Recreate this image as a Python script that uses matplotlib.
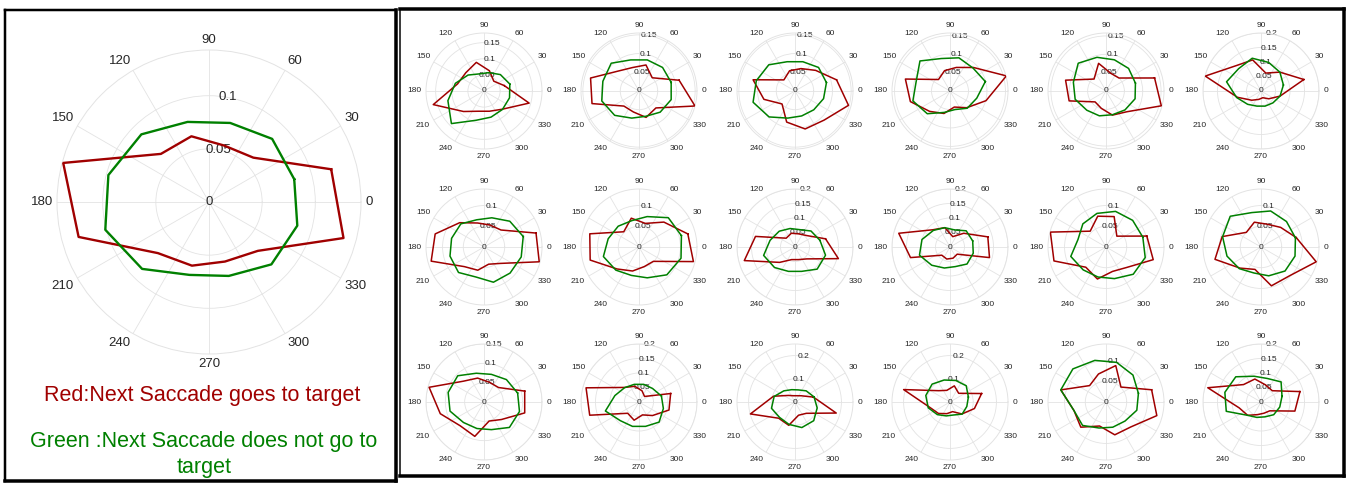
import numpy as np
import matplotlib
matplotlib.use("Agg")
from matplotlib import pyplot as plt
from matplotlib.lines import Line2D

plt.rcParams['font.family'] = ['Liberation Sans', 'DejaVu Sans']

W, H = 1351, 483

# bin centres (deg) and angular tick labels
angles = [15, 45, 75, 105, 135, 165, 195, 225, 255, 285, 315, 345]
theta_labels = [0, 30, 60, 90, 120, 150, 180, 210, 240, 270, 300, 330]

# big panel (average)
main_red = [0.119, 0.059, 0.055, 0.064, 0.064, 0.142, 0.127, 0.068, 0.062, 0.058, 0.065, 0.131]
main_green = [0.083, 0.084, 0.077, 0.078, 0.090, 0.098, 0.101, 0.089, 0.071, 0.072, 0.083, 0.086]
main_rticks = [0, 0.05, 0.1]
main_rmax = 0.143

# 18 small panels, row by row
p01_red = [0.065, 0.043, 0.065, 0.092, 0.08, 0.085, 0.163, 0.09, 0.065, 0.065, 0.08, 0.145]
p01_green = [0.083, 0.072, 0.059, 0.055, 0.07, 0.092, 0.116, 0.143, 0.094, 0.084, 0.081, 0.082]
p02_red = [0.111, 0.05, 0.072, 0.065, 0.076, 0.134, 0.13, 0.057, 0.058, 0.073, 0.064, 0.155]
p02_green = [0.089, 0.089, 0.086, 0.086, 0.105, 0.1, 0.103, 0.092, 0.075, 0.07, 0.08, 0.089]
p03_red = [0.115, 0.078, 0.062, 0.056, 0.042, 0.116, 0.086, 0.049, 0.086, 0.105, 0.11, 0.148]
p03_green = [0.087, 0.089, 0.081, 0.081, 0.099, 0.107, 0.116, 0.098, 0.075, 0.069, 0.071, 0.079]
p04_red = [0.158, 0.09, 0.066, 0.057, 0.044, 0.125, 0.111, 0.078, 0.063, 0.045, 0.064, 0.101]
p04_green = [0.099, 0.088, 0.093, 0.091, 0.115, 0.095, 0.104, 0.087, 0.06, 0.052, 0.066, 0.075]
p05_red = [0.137, 0.05, 0.05, 0.078, 0.046, 0.114, 0.104, 0.042, 0.049, 0.068, 0.08, 0.156]
p05_green = [0.083, 0.087, 0.088, 0.095, 0.107, 0.092, 0.087, 0.074, 0.07, 0.067, 0.073, 0.082]
p06_red = [0.153, 0.092, 0.064, 0.111, 0.123, 0.199, 0.084, 0.045, 0.03, 0.024, 0.038, 0.068]
p06_green = [0.08, 0.092, 0.102, 0.117, 0.109, 0.123, 0.087, 0.065, 0.054, 0.054, 0.058, 0.068]

p07_red = [0.13, 0.058, 0.055, 0.06, 0.083, 0.122, 0.132, 0.067, 0.058, 0.043, 0.056, 0.138]
p07_green = [0.098, 0.088, 0.073, 0.068, 0.079, 0.081, 0.085, 0.087, 0.075, 0.088, 0.089, 0.093]
p08_red = [0.122, 0.085, 0.059, 0.072, 0.052, 0.123, 0.122, 0.075, 0.06, 0.049, 0.049, 0.136]
p08_green = [0.106, 0.1, 0.076, 0.066, 0.071, 0.077, 0.089, 0.079, 0.071, 0.077, 0.095, 0.105]
p09_red = [0.109, 0.056, 0.047, 0.049, 0.043, 0.141, 0.181, 0.075, 0.045, 0.045, 0.058, 0.155]
p09_green = [0.089, 0.078, 0.062, 0.066, 0.077, 0.089, 0.112, 0.1, 0.087, 0.087, 0.108, 0.109]
p10_red = [0.135, 0.067, 0.037, 0.069, 0.084, 0.183, 0.141, 0.04, 0.043, 0.04, 0.035, 0.141]
p10_green = [0.081, 0.079, 0.061, 0.069, 0.081, 0.1, 0.109, 0.089, 0.075, 0.07, 0.083, 0.083]
p11_red = [0.102, 0.037, 0.076, 0.077, 0.054, 0.139, 0.13, 0.069, 0.08, 0.061, 0.07, 0.118]
p11_green = [0.092, 0.091, 0.089, 0.084, 0.079, 0.07, 0.088, 0.078, 0.075, 0.079, 0.093, 0.098]
p12_red = [0.088, 0.067, 0.057, 0.062, 0.05, 0.097, 0.115, 0.072, 0.056, 0.097, 0.098, 0.138]
p12_green = [0.086, 0.087, 0.09, 0.086, 0.105, 0.096, 0.085, 0.074, 0.065, 0.072, 0.082, 0.085]

p13_red = [0.109, 0.053, 0.053, 0.064, 0.076, 0.147, 0.117, 0.087, 0.092, 0.051, 0.064, 0.109]
p13_green = [0.09, 0.082, 0.074, 0.077, 0.096, 0.096, 0.091, 0.075, 0.071, 0.074, 0.093, 0.095]
p14_red = [0.113, 0.027, 0.04, 0.056, 0.071, 0.189, 0.176, 0.055, 0.065, 0.046, 0.066, 0.107]
p14_green = [0.08, 0.066, 0.063, 0.063, 0.07, 0.086, 0.12, 0.091, 0.087, 0.087, 0.098, 0.087]
p15_red = [0.082, 0.038, 0.028, 0.028, 0.04, 0.096, 0.199, 0.099, 0.104, 0.059, 0.069, 0.184]
p15_green = [0.085, 0.068, 0.054, 0.055, 0.068, 0.093, 0.105, 0.094, 0.1, 0.114, 0.114, 0.099]
p16_red = [0.141, 0.053, 0.072, 0.052, 0.069, 0.207, 0.09, 0.07, 0.052, 0.043, 0.073, 0.109]
p16_green = [0.082, 0.099, 0.096, 0.098, 0.109, 0.108, 0.097, 0.077, 0.062, 0.058, 0.074, 0.075]
p17_red = [0.114, 0.051, 0.091, 0.07, 0.056, 0.113, 0.08, 0.086, 0.06, 0.082, 0.085, 0.127]
p17_green = [0.081, 0.092, 0.099, 0.104, 0.113, 0.113, 0.08, 0.08, 0.065, 0.063, 0.065, 0.077]
p18_red = [0.139, 0.055, 0.061, 0.082, 0.085, 0.19, 0.078, 0.065, 0.045, 0.04, 0.043, 0.121]
p18_green = [0.075, 0.098, 0.084, 0.092, 0.123, 0.129, 0.124, 0.065, 0.055, 0.053, 0.062, 0.067]

small_red = [p01_red, p02_red, p03_red, p04_red, p05_red, p06_red,
             p07_red, p08_red, p09_red, p10_red, p11_red, p12_red,
             p13_red, p14_red, p15_red, p16_red, p17_red, p18_red]
small_green = [p01_green, p02_green, p03_green, p04_green, p05_green, p06_green,
               p07_green, p08_green, p09_green, p10_green, p11_green, p12_green,
               p13_green, p14_green, p15_green, p16_green, p17_green, p18_green]
small_rmax = [0.18, 0.155, 0.155, 0.157, 0.158, 0.2,
              0.14, 0.14, 0.2, 0.2, 0.14, 0.14,
              0.15, 0.2, 0.25, 0.25, 0.14, 0.2]
ticks_15 = [0, 0.05, 0.1, 0.15]
ticks_20 = [0, 0.05, 0.1, 0.15, 0.2]
ticks_10 = [0, 0.05, 0.1]
ticks_25 = [0, 0.1, 0.2]
small_rticks = [ticks_15, ticks_15, ticks_15, ticks_15, ticks_15, ticks_20,
                ticks_10, ticks_10, ticks_20, ticks_20, ticks_10, ticks_10,
                ticks_15, ticks_20, ticks_25, ticks_25, ticks_10, ticks_20]

label_red = 'Red:Next Saccade goes to target'
label_green = ['Green :Next Saccade does not go to', 'target']

RED = '#a00000'
GREEN = '#008000'
GRID = '#e3e3e3'


def polar_at(fig, cx, cy, r):
    rect = [(cx - r) / W, 1 - (cy + r) / H, 2 * r / W, 2 * r / H]
    return fig.add_axes(rect, projection='polar')


def draw_polar(ax, red, green, rticks, rmax, lw, fs, gap):
    th = np.deg2rad(angles + angles[:1])
    ax.plot(th, list(red) + [red[0]], color=RED, lw=lw, zorder=3)
    ax.plot(th, list(green) + [green[0]], color=GREEN, lw=lw, zorder=3)
    ax.set_ylim(0, rmax)
    ax.set_xticks(np.deg2rad(theta_labels))
    ax.set_xticklabels([])
    ax.set_yticks(rticks[1:])
    ax.set_yticklabels([])
    ax.tick_params(length=0)
    ax.grid(True, color=GRID, lw=0.6)
    ax.spines['polar'].set_color(GRID)
    ax.spines['polar'].set_linewidth(0.7)
    ax.set_axisbelow(True)
    for a in theta_labels:
        c, s = np.cos(np.deg2rad(a)), np.sin(np.deg2rad(a))
        ha = 'center' if abs(c) < 0.01 else ('left' if c > 0 else 'right')
        va = 'center' if abs(s) < 0.01 else ('bottom' if s > 0 else 'top')
        ax.annotate(str(a), xy=(np.deg2rad(a), rmax), xytext=(gap * c, gap * s),
                    textcoords='offset points', ha=ha, va=va, fontsize=fs,
                    color='#262626', annotation_clip=False)
    for v in rticks:
        ax.text(np.deg2rad(80), v, f'{v:g}', ha='center', va='center',
                fontsize=fs, color='#262626', zorder=2)


fig = plt.figure(figsize=(W / 100, H / 100), dpi=100)

# big panel
ax = polar_at(fig, 209, 202, 152)
draw_polar(ax, main_red, main_green, main_rticks, main_rmax, 1.7, 9.5, 3)

fig.text(202 / W, 1 - 395 / H, label_red, color=RED, fontsize=15.5,
         ha='center', va='center')
fig.text(204 / W, 1 - 441 / H, label_green[0], color=GREEN, fontsize=15.5,
         ha='center', va='center')
fig.text(204 / W, 1 - 467 / H, label_green[1], color=GREEN, fontsize=15.5,
         ha='center', va='center')

# small grid
xs = [484, 639, 795, 950, 1106, 1261]
ys = [91, 247, 402]
for i in range(18):
    row, col = divmod(i, 6)
    ax = polar_at(fig, xs[col], ys[row], 58)
    draw_polar(ax, small_red[i], small_green[i], small_rticks[i], small_rmax[i],
               1.1, 6, 3)


def box(x0, y0, x1, y1, widths):
    sides = [((x0, x0), (y0, y1)), ((x0, x1), (y0, y0)),
             ((x1, x1), (y0, y1)), ((x0, x1), (y1, y1))]
    for (sx, sy), w in zip(sides, widths):
        fig.add_artist(Line2D([v / W for v in sx], [1 - v / H for v in sy],
                              transform=fig.transFigure, color='black',
                              lw=w * 0.72, solid_capstyle='projecting'))


box(5.5, 9.5, 395.5, 481, [2.5, 2.5, 3.5, 3.5])
box(400, 9, 1344, 475.5, [1.5, 3.5, 3.5, 3.5])

fig.savefig('out.png', dpi=100)
